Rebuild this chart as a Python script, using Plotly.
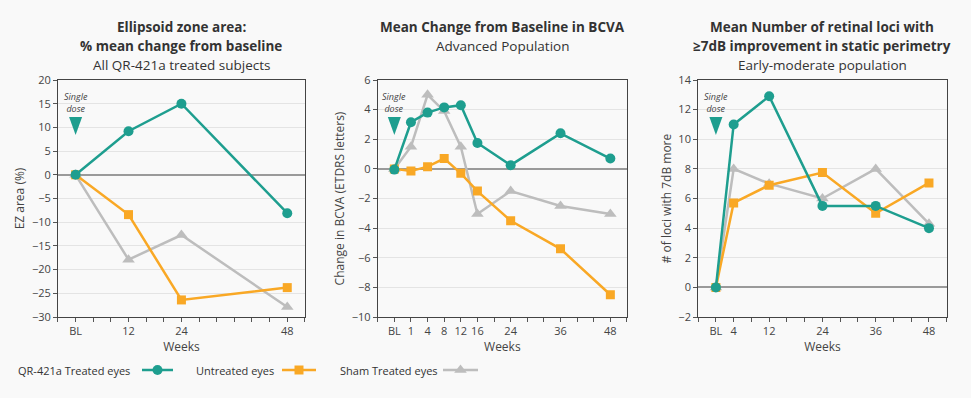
import plotly.graph_objects as go

# ---------------- data ----------------
# Chart 1: Ellipsoid zone area
ez_weeks = [0, 12, 24, 48]
ez_tickvals = [0, 12, 24, 48]
ez_ticktext = ["BL", "12", "24", "48"]
ez_treated = [0, 9.2, 15.0, -8.1]
ez_untreated = [0, -8.4, -26.4, -23.8]
ez_sham = [0, -17.9, -12.7, -27.9]

# Chart 2: BCVA (axis is compressed for early visits)
bcva_labels = ["BL", "1", "4", "8", "12", "16", "24", "36", "48"]
bcva_axis_pos = [0, 4, 8, 12, 16, 20, 28, 40, 52]
bcva_treated = [-0.05, 3.15, 3.8, 4.15, 4.3, 1.75, 0.25, 2.4, 0.7]
bcva_untreated = [0, -0.15, 0.15, 0.7, -0.3, -1.5, -3.5, -5.4, -8.5]
bcva_sham = [0, 1.5, 5.0, 3.9, 1.5, -3.05, -1.5, -2.5, -3.05]

# Chart 3: retinal loci
loci_weeks = [0, 4, 12, 24, 36, 48]
loci_ticktext = ["BL", "4", "12", "24", "36", "48"]
loci_treated = [0, 11.0, 12.9, 5.5, 5.5, 4.0]
loci_untreated = [0, 5.7, 6.9, 7.75, 5.0, 7.05]
loci_sham = [0, 8.0, 7.0, 6.0, 8.0, 4.3]

series_names = ["QR-421a Treated eyes", "Untreated eyes", "Sham Treated eyes"]

# ---------------- style ----------------
TEAL = "#1E9E8F"
ORANGE = "#F9A825"
GRAY = "#BDBDBD"
BG = "#F9F9F9"
FONT = "Open Sans"
TXT = "#333333"

colors = [TEAL, ORANGE, GRAY]
symbols = ["circle", "square", "triangle-up"]
msizes = [10, 9, 11]

fig = go.Figure()

charts = [
    (ez_weeks, [ez_treated, ez_untreated, ez_sham]),
    (bcva_axis_pos, [bcva_treated, bcva_untreated, bcva_sham]),
    (loci_weeks, [loci_treated, loci_untreated, loci_sham]),
]
# draw order: sham at back, then untreated, then treated on top
for ci, (xs, ys) in enumerate(charts):
    ax = "" if ci == 0 else str(ci + 1)
    for si in [2, 1, 0]:
        fig.add_trace(go.Scatter(
            x=xs, y=ys[si], mode="lines+markers",
            line=dict(color=colors[si], width=2.5),
            marker=dict(color=colors[si], symbol=symbols[si], size=msizes[si]),
            xaxis="x" + ax, yaxis="y" + ax, showlegend=False, name=series_names[si],
            hoverinfo="skip",
        ))

# ---------------- axes ----------------
x_domains = [[0.0597, 0.314], [0.389, 0.6457], [0.719, 0.975]]
y_dom = [1 - 317 / 398, 1 - 80 / 398]
x_ranges = [[-4, 52], [-4, 56], [-4, 52]]
x_tickvals = [ez_tickvals, bcva_axis_pos, loci_weeks]
x_ticktexts = [ez_ticktext, bcva_labels, loci_ticktext]
y_ranges = [[-30, 20], [-10, 6], [-2, 14]]
y_dticks = [5, 2, 2]
y_titles = ["EZ area (%)", "Change in BCVA (ETDRS letters)", "# of loci with 7dB more"]

layout = dict(
    width=971, height=398,
    margin=dict(l=0, r=0, t=0, b=0, autoexpand=False),
    paper_bgcolor=BG, plot_bgcolor=BG,
    font=dict(family=FONT, color=TXT),
    showlegend=False,
)
for i in range(3):
    sfx = "" if i == 0 else str(i + 1)
    layout["xaxis" + sfx] = dict(
        domain=x_domains[i], range=x_ranges[i], anchor="y" + sfx,
        tickmode="array", tickvals=x_tickvals[i], ticktext=x_ticktexts[i],
        showgrid=False, zeroline=False, automargin=False,
        showline=True, mirror=True, linecolor="#444444", linewidth=1,
        ticks="outside", ticklen=4, tickcolor="#555555",
        minor=dict(tick0=0, dtick=4, ticks="outside", ticklen=4, tickcolor="#555555", showgrid=False),
        tickfont=dict(size=11, color="#444444", family=FONT),
        title=dict(text="Weeks", font=dict(size=12, color="#444444", family=FONT), standoff=2),
        fixedrange=True,
    )
    layout["yaxis" + sfx] = dict(
        domain=y_dom, range=y_ranges[i], anchor="x" + sfx,
        dtick=y_dticks[i], tick0=0, automargin=False,
        showgrid=True, gridcolor="#E4E4E4", gridwidth=1,
        zeroline=True, zerolinecolor="#9A9A9A", zerolinewidth=1.5,
        showline=True, mirror=True, linecolor="#444444", linewidth=1,
        ticks="outside", ticklen=4, tickcolor="#555555",
        tickfont=dict(size=11, color="#444444", family=FONT),
        title=dict(text=y_titles[i], font=dict(size=12, color="#444444", family=FONT), standoff=4),
        fixedrange=True,
    )

# ---------------- titles ----------------
titles = [
    ["<b>Ellipsoid zone area:</b>", "<b>% mean change from baseline</b>", "All QR-421a treated subjects"],
    ["<b>Mean Change from Baseline in BCVA</b>", "Advanced Population"],
    ["<b>Mean Number of retinal loci with</b>", "<b>≥7dB improvement in static perimetry</b>", "Early-moderate population"],
]
title_y_px = [27, 46, 65]
annotations = []
for i, lines in enumerate(titles):
    xref = "x domain" if i == 0 else "x%d domain" % (i + 1)
    for j, t in enumerate(lines):
        annotations.append(dict(
            text=t, xref=xref, x=0.5, yref="paper", y=1 - title_y_px[j] / 398,
            xanchor="center", yanchor="middle", showarrow=False,
            font=dict(size=13.5, color=TXT, family=FONT),
        ))

# "Single dose" markers
shapes = []
for i in range(3):
    xr = "x" if i == 0 else "x%d" % (i + 1)
    annotations.append(dict(
        text="<i>Single<br>dose</i>", xref=xr, x=0, yref="paper", y=1 - 102 / 398,
        xanchor="center", yanchor="middle", showarrow=False, align="center",
        font=dict(size=9, color="#444444", family=FONT),
    ))
    shapes.append(dict(
        type="path", xref=xr, yref="paper", xsizemode="pixel", ysizemode="pixel",
        xanchor=0, yanchor=1 - 117 / 398,
        path="M -6.5 0 L 6.5 0 L 0 -18 Z",
        fillcolor=TEAL, line=dict(width=0),
    ))

# ---------------- legend (text left of sample) ----------------
legend_text_x = [16, 194, 338]
legend_sample_x = [[142, 173], [282, 316], [443, 478]]
leg_y = 1 - 370 / 398
layout["xaxis4"] = dict(domain=[0, 1], range=[0, 971], visible=False, fixedrange=True, anchor="y4")
layout["yaxis4"] = dict(domain=[leg_y - 0.03, leg_y + 0.03], range=[-1, 1], visible=False, fixedrange=True, anchor="x4")
for si in range(3):
    annotations.append(dict(
        text=series_names[si], xref="paper", x=legend_text_x[si] / 971, yref="paper", y=leg_y,
        xanchor="left", yanchor="middle", showarrow=False,
        font=dict(size=11, color=TXT, family=FONT),
    ))
    x0, x1 = legend_sample_x[si]
    fig.add_trace(go.Scatter(
        x=[x0, (x0 + x1) / 2, x1], y=[0, 0, 0], mode="lines",
        line=dict(color=colors[si], width=2.5), xaxis="x4", yaxis="y4",
        showlegend=False, hoverinfo="skip",
    ))
    fig.add_trace(go.Scatter(
        x=[(x0 + x1) / 2], y=[0], mode="markers",
        marker=dict(color=colors[si], symbol=symbols[si], size=msizes[si]),
        xaxis="x4", yaxis="y4", showlegend=False, hoverinfo="skip",
    ))

layout["annotations"] = annotations
layout["shapes"] = shapes
fig.update_layout(**layout)
fig.write_html(
    "out.html",
    config={"displayModeBar": False},
    post_script="document.body.style.margin='0';document.body.style.background='%s';" % BG,
)
